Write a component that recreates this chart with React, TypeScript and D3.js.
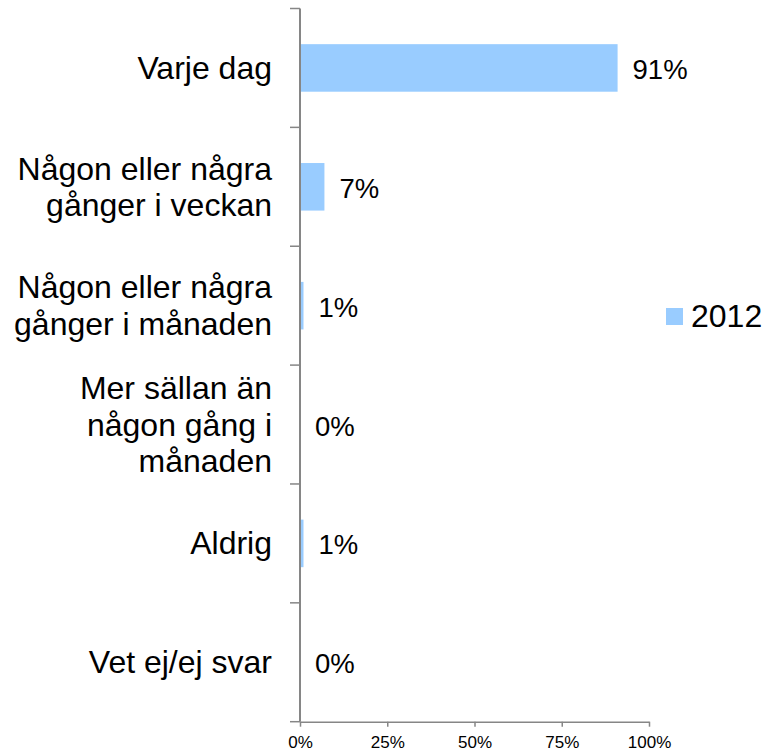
import React, { useEffect, useRef } from "react";
import * as d3 from "d3";

const categories: string[][] = [
  ["Varje dag"],
  ["Någon eller några", "gånger i veckan"],
  ["Någon eller några", "gånger i månaden"],
  ["Mer sällan än", "någon gång i", "månaden"],
  ["Aldrig"],
  ["Vet ej/ej svar"],
];
const values2012 = [0.91, 0.07, 0.01, 0, 0.01, 0];
const xTicks = [0, 0.25, 0.5, 0.75, 1];
const seriesName = "2012";

const BAR = "#99CCFF";
const AXIS = "#868686";
const FONT = "'Liberation Sans', Arial, sans-serif";

const BottomAxis = ({ scale, y }: { scale: d3.ScaleLinear<number, number>; y: number }) => {
  const ref = useRef<SVGGElement>(null);
  useEffect(() => {
    const axis = d3
      .axisBottom(scale)
      .tickValues(xTicks)
      .tickFormat(d3.format(".0%"))
      .tickSize(5)
      .tickSizeOuter(0)
      .tickPadding(9);
    const g = d3.select(ref.current!).call(axis);
    g.select(".domain").attr("stroke", AXIS).attr("stroke-width", 1.5);
    g.selectAll(".tick line").attr("stroke", AXIS).attr("stroke-width", 1.5);
    g.selectAll(".tick text")
      .attr("fill", "#000")
      .style("font-family", FONT)
      .style("font-size", "17px");
  }, [scale]);
  return <g ref={ref} transform={`translate(0,${y})`} />;
};

export default function App() {
  const left = 300;
  const right = 649;
  const top = 8.5;
  const bottom = 721.7;

  const idx = categories.map((_, i) => String(i));
  const x = d3.scaleLinear().domain([0, 1]).range([left, right]);
  const band = d3.scaleBand().domain(idx).range([top, bottom]).padding(0);
  const barBand = d3
    .scaleBand()
    .domain(idx)
    .range([top, bottom])
    .paddingInner(0.6)
    .paddingOuter(0.3);
  const step = band.step();
  const lineH = 36.5;

  return (
    <svg
      width={765}
      height={753}
      style={{ position: "absolute", left: 0, top: 0, background: "#fff" }}
      fontFamily={FONT}
    >
      {/* category ticks on the value axis */}
      {d3.range(categories.length + 1).map((i) => (
        <line
          key={i}
          x1={left - 10}
          x2={left}
          y1={top + i * step}
          y2={top + i * step}
          stroke={AXIS}
          strokeWidth={1.5}
        />
      ))}

      {values2012.map((v, i) => (
        <rect
          key={i}
          x={x(0)}
          y={barBand(String(i))}
          width={x(v) - x(0)}
          height={barBand.bandwidth()}
          fill={BAR}
        />
      ))}

      <line x1={left} x2={left} y1={top} y2={bottom} stroke={AXIS} strokeWidth={2} />
      <BottomAxis scale={x} y={bottom} />

      {categories.map((lines, i) => {
        const cy = (band(String(i)) as number) + step / 2;
        const first = cy - ((lines.length - 1) * lineH) / 2 + 11;
        return (
          <text key={i} textAnchor="end" fontSize={32} fill="#000">
            {lines.map((l, j) => (
              <tspan key={j} x={272} y={first + j * lineH}>
                {l}
              </tspan>
            ))}
          </text>
        );
      })}

      {values2012.map((v, i) => (
        <text
          key={i}
          x={x(v) + 15}
          y={(band(String(i)) as number) + step / 2 + 11}
          fontSize={27.5}
          fill="#000"
        >
          {d3.format(".0%")(v)}
        </text>
      ))}

      <rect x={666} y={308} width={17} height={17} fill={BAR} />
      <text x={691} y={327} fontSize={32} fill="#000">
        {seriesName}
      </text>
    </svg>
  );
}
